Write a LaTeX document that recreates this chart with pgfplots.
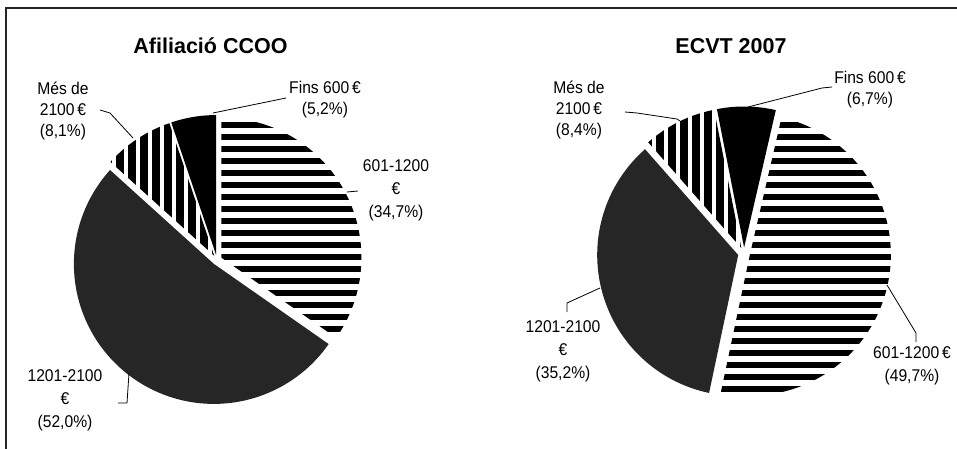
\documentclass[border=0pt]{standalone}
\usepackage{fontspec}
\setmainfont{Liberation Sans}
\newfontfamily\lblfont[FakeStretch=0.92]{Liberation Sans}
\usepackage{pgfplots}
\pgfplotsset{compat=1.18}
\usetikzlibrary{patterns.meta}

\tikzset{
  hstripe/.style={pattern={Lines[angle=0,distance=12bp,line width=6.5bp]},pattern color=black,draw=none},
  vstripe/.style={pattern={Lines[angle=90,distance=12bp,line width=8.5bp]},pattern color=black,draw=none},
  solidblk/.style={fill=black,draw=none},
  darkg/.style={fill=black!85,draw=none},
  lbl/.style={font=\lblfont\fontsize{17bp}{23bp}\selectfont,align=center,inner sep=0pt,anchor=center},
  lbls/.style={font=\lblfont\fontsize{17bp}{21bp}\selectfont,align=center,inner sep=0pt,anchor=center},
  ttl/.style={font=\bfseries\fontsize{21.5bp}{24bp}\selectfont,inner sep=0pt,anchor=base},
  leader/.style={black,line width=0.8bp},
}

% slice: cx, cy, r, start angle, end angle (clockwise from 12 o'clock), explode, style
\newcommand\slice[7]{%
  \pgfmathsetmacro\smid{(#4+#5)/2}%
  \pgfmathsetmacro\scx{#1+#6*sin(\smid)}%
  \pgfmathsetmacro\scy{#2-#6*cos(\smid)}%
  \edef\doslice{\noexpand\addplot[#7,domain=#4:#5,samples=120] ({\scx+#3*sin(x)},{\scy-#3*cos(x)}) -- (axis cs:\scx,\scy) -- cycle;}%
  \doslice}

% shares (%), clockwise from the start angle
% Afiliacio CCOO: 601-1200 34.7, 1201-2100 52.0, Mes de 2100 8.1, Fins 600 5.2
\pgfmathsetmacro\LA{0}
\pgfmathsetmacro\LB{\LA+3.6*34.7}
\pgfmathsetmacro\LC{\LB+3.6*52.0}
\pgfmathsetmacro\LD{\LC+3.6*8.1}
\pgfmathsetmacro\LE{\LD+3.6*5.2}
% ECVT 2007: 601-1200 49.7, 1201-2100 35.2, Mes de 2100 8.4, Fins 600 6.7
\pgfmathsetmacro\RA{13}
\pgfmathsetmacro\RB{\RA+3.6*49.7}
\pgfmathsetmacro\RC{\RB+3.6*35.2}
\pgfmathsetmacro\RD{\RC+3.6*8.4}
\pgfmathsetmacro\RE{\RD+3.6*6.7}

\begin{document}
\begin{tikzpicture}
\begin{axis}[
  width=957bp, height=449bp, scale only axis,
  xmin=0, xmax=957, ymin=0, ymax=449, y dir=reverse,
  hide axis, clip=false,
]
% frame
\addplot[black!85,line width=2.2bp] coordinates {(6,449) (6,8) (957,8)};

% left pie
\slice{217}{260}{140}{\LA}{\LB}{5}{hstripe}
\slice{217}{260}{140}{\LB}{\LC}{5}{darkg}
\slice{217}{260}{140}{\LC}{\LD}{5}{vstripe}
\slice{217}{260}{140}{\LD}{\LE}{5}{solidblk}

% right pie
\slice{744}{253.5}{141}{\RA}{\RB}{6}{hstripe}
\slice{744}{253.5}{141}{\RB}{\RC}{6}{darkg}
\slice{744}{253.5}{141}{\RC}{\RD}{6}{vstripe}
\slice{744}{253.5}{141}{\RD}{\RE}{6}{solidblk}

% leader lines
\addplot[leader] coordinates {(286,98) (213,113)};
\addplot[leader] coordinates {(100,110) (110,113) (133,138)};
\addplot[leader] coordinates {(347,192) (358,191)};
\addplot[leader] coordinates {(118,403) (127,403) (129,373)};
\addplot[leader] coordinates {(832,87) (822,88) (748,107)};
\addplot[leader] coordinates {(625,112) (637,113) (677,119) (680,121)};
\addplot[leader] coordinates {(567,312) (567,303) (600,288)};
\addplot[leader] coordinates {(916,342) (916,333) (887,285)};

% titles
\node[ttl] at (axis cs:210.5,53.3) {Afiliació CCOO};
\node[ttl] at (axis cs:731,53.3) {ECVT 2007};

% labels
\node[lbls] at (axis cs:325,100) {Fins 600\,€\\(5,2\%)};
\node[lbls] at (axis cs:63,111) {Més de\\2100\,€\\(8,1\%)};
\node[lbl] at (axis cs:396,190) {601-1200\\€\\(34,7\%)};
\node[lbl] at (axis cs:65,400) {1201-2100\\€\\(52,0\%)};
\node[lbls] at (axis cs:870,90) {Fins 600\,€\\(6,7\%)};
\node[lbls] at (axis cs:579,110) {Més de\\2100\,€\\(8,4\%)};
\node[lbl] at (axis cs:563,351) {1201-2100\\€\\(35,2\%)};
\node[lbl] at (axis cs:912,366) {601-1200\,€\\(49,7\%)};
\end{axis}
\pgfresetboundingbox
\path (current axis.south west) rectangle (current axis.north east);
\end{tikzpicture}
\end{document}
